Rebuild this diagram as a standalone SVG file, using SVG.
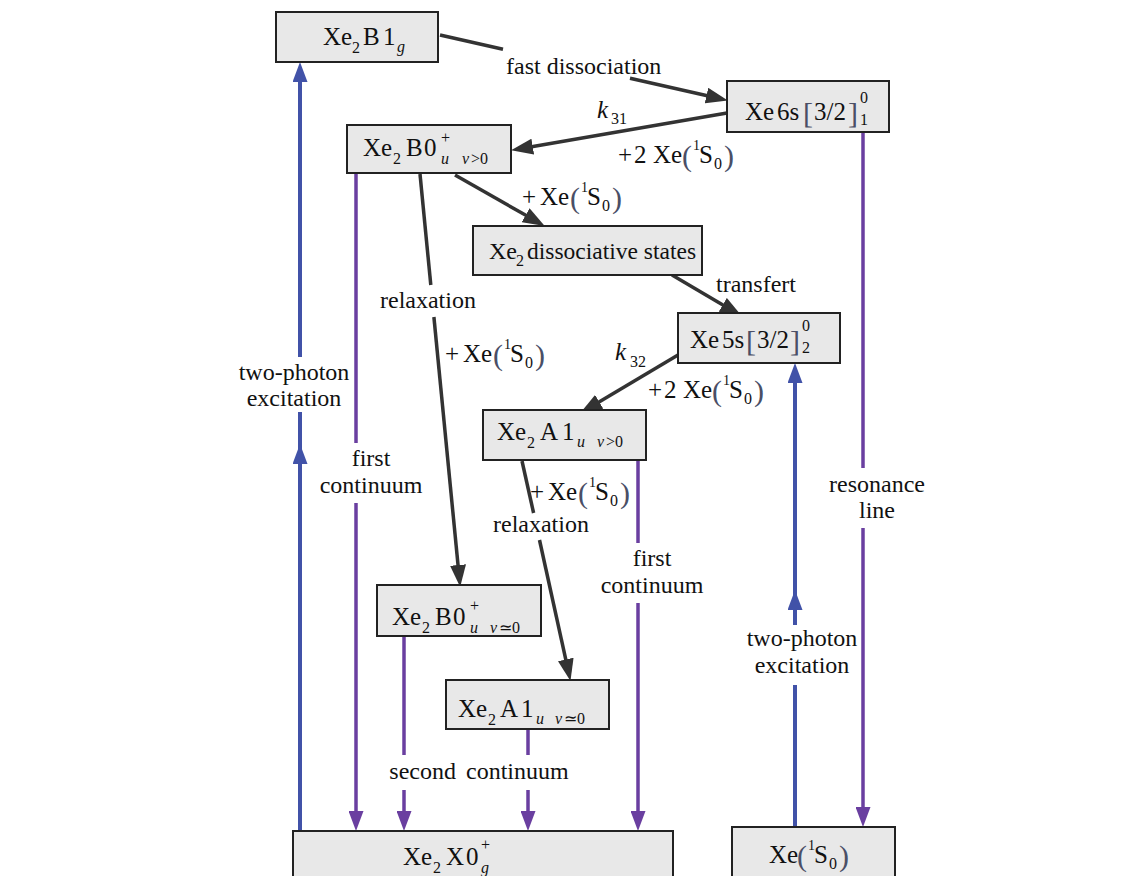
<svg xmlns="http://www.w3.org/2000/svg" width="1145" height="876" viewBox="0 0 1145 876">
<defs>
<style>
text{font-family:"Liberation Serif","Times New Roman",serif;fill:#111;}
.lbl{font-size:24px;}
.m{font-size:25px;}
.s{font-size:16px;}
.t{font-size:14px;}
.i{font-style:italic;}
.p{font-size:30px;fill:#4a4f66;}
.box{fill:#e8e8e8;stroke:#222;stroke-width:2;}
.bl{stroke:#4152a8;stroke-width:4;fill:none;}
.pu{stroke:#6a3fa0;stroke-width:3.5;fill:none;}
.dk{stroke:#333;stroke-width:3.5;fill:none;}
</style>
<marker id="aB" viewBox="0 0 20 15" refX="10" refY="7.5" markerWidth="20" markerHeight="15" markerUnits="userSpaceOnUse" orient="auto"><path d="M0,0 L20,7.5 L0,15 z" fill="#4152a8"/></marker>
<marker id="aP" viewBox="0 0 20 15" refX="10" refY="7.5" markerWidth="20" markerHeight="15" markerUnits="userSpaceOnUse" orient="auto"><path d="M0,0 L20,7.5 L0,15 z" fill="#6a3fa0"/></marker>
<marker id="aD" viewBox="0 0 22 16" refX="10" refY="8" markerWidth="22" markerHeight="16" markerUnits="userSpaceOnUse" orient="auto"><path d="M0,0 L22,8 L0,16 z" fill="#333"/></marker>
</defs>
<rect width="1145" height="876" fill="#fff"/>

<g id="connectors">
  <path class="bl" d="M300,831 L300,454 L300,412" marker-mid="url(#aB)"/>
  <path class="bl" d="M300,357 L300,72" marker-end="url(#aB)"/>
  <path class="pu" d="M356,174 L356,443"/>
  <path class="pu" d="M356,503 L356,821" marker-end="url(#aP)"/>
  <path class="pu" d="M404,637 L404,755"/>
  <path class="pu" d="M404,790 L404,821" marker-end="url(#aP)"/>
  <path class="pu" d="M528,730 L528,755"/>
  <path class="pu" d="M528,790 L528,821" marker-end="url(#aP)"/>
  <path class="pu" d="M638,461 L638,543"/>
  <path class="pu" d="M638,603 L638,821" marker-end="url(#aP)"/>
  <path class="pu" d="M863,133 L863,468"/>
  <path class="pu" d="M863,528 L863,817" marker-end="url(#aP)"/>
  <path class="bl" d="M795,827 L795,685"/>
  <path class="bl" d="M795,625 L795,600 L795,373" marker-mid="url(#aB)" marker-end="url(#aB)"/>
  <path class="dk" d="M440,35 L503,49.3"/>
  <path class="dk" d="M630,78.2 L716.2,97.8" marker-end="url(#aD)"/>
  <path class="dk" d="M727,113 L522.9,148.3" marker-end="url(#aD)"/>
  <path class="dk" d="M455,175 L534.3,220.1" marker-end="url(#aD)"/>
  <path class="dk" d="M672,275 L731.4,309.9" marker-end="url(#aD)"/>
  <path class="dk" d="M678,355 L590.6,406.9" marker-end="url(#aD)"/>
  <path class="dk" d="M420,174 L430.8,285"/>
  <path class="dk" d="M433.9,317 L459,575" marker-end="url(#aD)"/>
  <path class="dk" d="M522,461 L533.6,513"/>
  <path class="dk" d="M539.5,540 L567.9,669.2" marker-end="url(#aD)"/>
</g>

<g id="labels">
  <text class="lbl" x="506" y="74">fast dissociation</text>
  <text class="lbl" x="716" y="292">transfert</text>
  <text class="lbl" x="380" y="308">relaxation</text>
  <text class="lbl" x="493" y="532">relaxation</text>
  <text class="lbl" text-anchor="middle"><tspan x="294" y="380">two-photon</tspan><tspan x="294" y="406">excitation</tspan></text>
  <text class="lbl" text-anchor="middle"><tspan x="371" y="466">first</tspan><tspan x="371" y="493">continuum</tspan></text>
  <text class="lbl" text-anchor="middle"><tspan x="652" y="566">first</tspan><tspan x="652" y="593">continuum</tspan></text>
  <text class="lbl" text-anchor="middle"><tspan x="877" y="492">resonance</tspan><tspan x="877" y="518">line</tspan></text>
  <text class="lbl" text-anchor="middle"><tspan x="802" y="646">two-photon</tspan><tspan x="802" y="673">excitation</tspan></text>
  <text class="lbl" x="479" y="779" text-anchor="middle" word-spacing="4">second continuum</text>
  <text class="m"><tspan class="i" x="597" y="118">k</tspan><tspan class="s" x="611" y="124">31</tspan></text>
  <text class="m"><tspan class="i" x="615" y="360">k</tspan><tspan class="s" x="630" y="367">32</tspan></text>
  <text class="m"><tspan x="618" y="163">+</tspan><tspan x="634" y="163">2</tspan><tspan x="653" y="163">Xe</tspan><tspan class="p" x="682" y="166">(</tspan><tspan class="t" x="693" y="150">1</tspan><tspan x="699" y="163">S</tspan><tspan class="s" x="714" y="169">0</tspan><tspan class="p" x="724" y="166">)</tspan></text>
  <text class="m"><tspan x="648" y="398">+</tspan><tspan x="664" y="398">2</tspan><tspan x="683" y="398">Xe</tspan><tspan class="p" x="712" y="401">(</tspan><tspan class="t" x="723" y="385">1</tspan><tspan x="729" y="398">S</tspan><tspan class="s" x="744" y="404">0</tspan><tspan class="p" x="754" y="401">)</tspan></text>
  <text class="m"><tspan x="522" y="205">+</tspan><tspan x="540" y="205">Xe</tspan><tspan class="p" x="570" y="208">(</tspan><tspan class="t" x="581" y="192">1</tspan><tspan x="587" y="205">S</tspan><tspan class="s" x="602" y="211">0</tspan><tspan class="p" x="612" y="208">)</tspan></text>
  <text class="m"><tspan x="445" y="362">+</tspan><tspan x="463" y="362">Xe</tspan><tspan class="p" x="493" y="365">(</tspan><tspan class="t" x="504" y="349">1</tspan><tspan x="510" y="362">S</tspan><tspan class="s" x="525" y="368">0</tspan><tspan class="p" x="535" y="365">)</tspan></text>
  <text class="m"><tspan x="530" y="500">+</tspan><tspan x="548" y="500">Xe</tspan><tspan class="p" x="578" y="503">(</tspan><tspan class="t" x="589" y="487">1</tspan><tspan x="595" y="500">S</tspan><tspan class="s" x="610" y="506">0</tspan><tspan class="p" x="620" y="503">)</tspan></text>
</g>

<g id="node-Xe2B1g">
  <rect class="box" x="276" y="12" width="162" height="50"/>
  <text class="m"><tspan x="323" y="45">Xe</tspan><tspan class="s" x="352" y="53">2</tspan><tspan x="363" y="45">B</tspan><tspan x="383" y="45">1</tspan><tspan class="s i" x="397" y="52">g</tspan></text>
</g>
<g id="node-Xe6s">
  <rect class="box" x="727" y="81" width="162" height="51"/>
  <text class="m"><tspan x="745" y="120">Xe</tspan><tspan x="777" y="120">6s</tspan><tspan class="p" x="803" y="123">[</tspan><tspan x="814" y="120">3/2</tspan><tspan class="p" x="848" y="123">]</tspan><tspan class="s" x="860" y="103">0</tspan><tspan class="s" x="860" y="125">1</tspan></text>
</g>
<g id="node-Xe2B0u-v">
  <rect class="box" x="347" y="125" width="164" height="48"/>
  <text class="m"><tspan x="363" y="156">Xe</tspan><tspan class="s" x="393" y="164">2</tspan><tspan x="406" y="156">B</tspan><tspan x="424" y="156">0</tspan><tspan class="s" x="441" y="143">+</tspan><tspan class="s i" x="441" y="164">u</tspan><tspan class="s i" x="462" y="164">v</tspan><tspan class="s" x="471" y="164">&gt;0</tspan></text>
</g>
<g id="node-Xe2diss">
  <rect class="box" x="473" y="226" width="229" height="49"/>
  <text style="font-size:24px"><tspan x="489" y="259">Xe</tspan><tspan class="s" x="516" y="266">2</tspan><tspan x="527" y="259" style="font-size:23.5px">dissociative states</tspan></text>
</g>
<g id="node-Xe5s">
  <rect class="box" x="678" y="313" width="162" height="50"/>
  <text class="m"><tspan x="690" y="348">Xe</tspan><tspan x="722" y="348">5s</tspan><tspan class="p" x="746" y="351">[</tspan><tspan x="757" y="348">3/2</tspan><tspan class="p" x="790" y="351">]</tspan><tspan class="s" x="802" y="331">0</tspan><tspan class="s" x="802" y="353">2</tspan></text>
</g>
<g id="node-Xe2A1u-v">
  <rect class="box" x="483" y="410" width="163" height="50"/>
  <text class="m"><tspan x="497" y="440">Xe</tspan><tspan class="s" x="527" y="448">2</tspan><tspan x="540" y="440">A</tspan><tspan x="562" y="440">1</tspan><tspan class="s i" x="577" y="447">u</tspan><tspan class="s i" x="597" y="447">v</tspan><tspan class="s" x="606" y="447">&gt;0</tspan></text>
</g>
<g id="node-Xe2B0u-0">
  <rect class="box" x="377" y="585" width="164" height="51"/>
  <text class="m"><tspan x="392" y="625">Xe</tspan><tspan class="s" x="422" y="633">2</tspan><tspan x="435" y="625">B</tspan><tspan x="453" y="625">0</tspan><tspan class="s" x="470" y="611">+</tspan><tspan class="s i" x="470" y="633">u</tspan><tspan class="s i" x="490" y="633">v</tspan><tspan class="s" x="499" y="633">≃0</tspan></text>
</g>
<g id="node-Xe2A1u-0">
  <rect class="box" x="446" y="680" width="163" height="49"/>
  <text class="m"><tspan x="458" y="717">Xe</tspan><tspan class="s" x="488" y="725">2</tspan><tspan x="500" y="717">A</tspan><tspan x="521" y="717">1</tspan><tspan class="s i" x="536" y="724">u</tspan><tspan class="s i" x="555" y="724">v</tspan><tspan class="s" x="564" y="724">≃0</tspan></text>
</g>
<g id="node-Xe2X0g">
  <rect class="box" x="293" y="831" width="380" height="60"/>
  <text class="m"><tspan x="403" y="865">Xe</tspan><tspan class="s" x="433" y="873">2</tspan><tspan x="446" y="865">X</tspan><tspan x="466" y="865">0</tspan><tspan class="s" x="481" y="850">+</tspan><tspan class="s i" x="481" y="873">g</tspan></text>
</g>
<g id="node-Xe1S0">
  <rect class="box" x="732" y="827" width="163" height="60"/>
  <text class="m"><tspan x="769" y="863">Xe</tspan><tspan class="p" x="797" y="866">(</tspan><tspan class="t" x="808" y="850">1</tspan><tspan x="814" y="863">S</tspan><tspan class="s" x="829" y="869">0</tspan><tspan class="p" x="839" y="866">)</tspan></text>
</g>
</svg>
